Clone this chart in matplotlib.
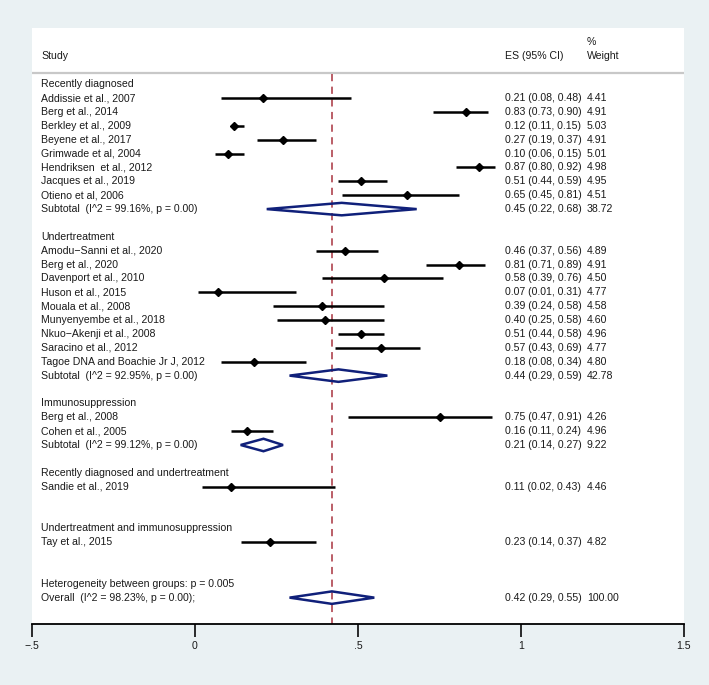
import matplotlib.pyplot as plt
from matplotlib.patches import Polygon

plt.rcParams['font.family'] = ['Liberation Sans', 'DejaVu Sans']

# ---- data ----
group_names = [
    "Recently diagnosed",
    "Undertreatment",
    "Immunosuppression",
    "Recently diagnosed and undertreatment",
    "Undertreatment and immunosuppression",
]

g1_studies = ["Addissie et al., 2007", "Berg et al., 2014", "Berkley et al., 2009",
              "Beyene et al., 2017", "Grimwade et al, 2004", "Hendriksen  et al., 2012",
              "Jacques et al., 2019", "Otieno et al, 2006"]
g1_es = [0.21, 0.83, 0.12, 0.27, 0.10, 0.87, 0.51, 0.65]
g1_lo = [0.08, 0.73, 0.11, 0.19, 0.06, 0.80, 0.44, 0.45]
g1_hi = [0.48, 0.90, 0.15, 0.37, 0.15, 0.92, 0.59, 0.81]
g1_w = [4.41, 4.91, 5.03, 4.91, 5.01, 4.98, 4.95, 4.51]

g2_studies = ["Amodu\u2212Sanni et al., 2020", "Berg et al., 2020", "Davenport et al., 2010",
              "Huson et al., 2015", "Mouala et al., 2008", "Munyenyembe et al., 2018",
              "Nkuo\u2212Akenji et al., 2008", "Saracino et al., 2012",
              "Tagoe DNA and Boachie Jr J, 2012"]
g2_es = [0.46, 0.81, 0.58, 0.07, 0.39, 0.40, 0.51, 0.57, 0.18]
g2_lo = [0.37, 0.71, 0.39, 0.01, 0.24, 0.25, 0.44, 0.43, 0.08]
g2_hi = [0.56, 0.89, 0.76, 0.31, 0.58, 0.58, 0.58, 0.69, 0.34]
g2_w = [4.89, 4.91, 4.50, 4.77, 4.58, 4.60, 4.96, 4.77, 4.80]

g3_studies = ["Berg et al., 2008", "Cohen et al., 2005"]
g3_es = [0.75, 0.16]
g3_lo = [0.47, 0.11]
g3_hi = [0.91, 0.24]
g3_w = [4.26, 4.96]

g4_studies = ["Sandie et al., 2019"]
g4_es = [0.11]
g4_lo = [0.02]
g4_hi = [0.43]
g4_w = [4.46]

g5_studies = ["Tay et al., 2015"]
g5_es = [0.23]
g5_lo = [0.14]
g5_hi = [0.37]
g5_w = [4.82]

# subtotal: (I^2 %, es, lo, hi, weight) or None
subtotals = [(99.16, 0.45, 0.22, 0.68, 38.72),
             (92.95, 0.44, 0.29, 0.59, 42.78),
             (99.12, 0.21, 0.14, 0.27, 9.22),
             None, None]

overall = (98.23, 0.42, 0.29, 0.55, 100.00)
het_p = "0.005"

xticks = [-0.5, 0, 0.5, 1, 1.5]
xtick_labels = ["\u2212.5", "0", ".5", "1", "1.5"]

groups = [
    (g1_studies, g1_es, g1_lo, g1_hi, g1_w),
    (g2_studies, g2_es, g2_lo, g2_hi, g2_w),
    (g3_studies, g3_es, g3_lo, g3_hi, g3_w),
    (g4_studies, g4_es, g4_lo, g4_hi, g4_w),
    (g5_studies, g5_es, g5_lo, g5_hi, g5_w),
]

# ---- styling ----
BG = "#eaf1f3"
NAVY = "#10207a"
REF = "#b5525c"
TXT = "#1a1a1a"
FS = 7.6
X_STUDY = -0.472
X_ES = 0.951
X_W = 1.202


def fmt_es(es, lo, hi):
    return f"{es:.2f} ({lo:.2f}, {hi:.2f})"


def diamond(ax, es, lo, hi, y, h=0.45):
    pts = [(lo, y), (es, y - h), (hi, y), (es, y + h)]
    ax.add_patch(Polygon(pts, closed=True, fill=False, edgecolor=NAVY,
                         linewidth=1.8, zorder=3))


def main():
    fig = plt.figure(figsize=(7.09, 6.85), dpi=100, facecolor=BG)
    ax = fig.add_axes([32 / 709, 61 / 685, 652 / 709, 596 / 685])
    ax.set_facecolor("white")

    def txt(x, y, s):
        ax.text(x, y, s, fontsize=FS, color=TXT, va="center", ha="left")

    # header
    txt(X_STUDY, -2, "Study")
    txt(X_ES, -2, "ES (95% CI)")
    txt(X_W, -3.05, "%")
    txt(X_W, -2, "Weight")
    ax.axhline(-0.8, color="#c8c8c8", linewidth=1.6, zorder=1)

    row = 0
    for name, (studies, es, lo, hi, w), sub in zip(group_names, groups, subtotals):
        txt(X_STUDY, row, name)
        row += 1
        for s, e, l, h, wt in zip(studies, es, lo, hi, w):
            txt(X_STUDY, row, s)
            ax.plot([l, h], [row, row], color="black", linewidth=1.8, zorder=3,
                    solid_capstyle="butt")
            ax.plot(e, row, marker="D", color="black", markersize=4.2, zorder=4)
            txt(X_ES, row, fmt_es(e, l, h))
            txt(X_W, row, f"{wt:.2f}")
            row += 1
        if sub is not None:
            i2, e, l, h, wt = sub
            txt(X_STUDY, row, f"Subtotal  (I^2 = {i2:.2f}%, p = 0.00)")
            diamond(ax, e, l, h, row)
            txt(X_ES, row, fmt_es(e, l, h))
            txt(X_W, row, f"{wt:.2f}")
        row += 2

    txt(X_STUDY, row, f"Heterogeneity between groups: p = {het_p}")
    row += 1
    i2, e, l, h, wt = overall
    txt(X_STUDY, row, f"Overall  (I^2 = {i2:.2f}%, p = 0.00);")
    diamond(ax, e, l, h, row)
    txt(X_ES, row, fmt_es(e, l, h))
    txt(X_W, row, f"{wt:.2f}")

    # reference line at overall estimate
    ax.plot([e, e], [-0.7, 38.9], color=REF, linewidth=1.3,
            linestyle=(0, (4, 3)), zorder=2)

    ax.set_xlim(-0.5, 1.5)
    ax.set_ylim(38.9, -4.05)
    for side in ["top", "right", "left"]:
        ax.spines[side].set_visible(False)
    ax.spines["bottom"].set_linewidth(1.3)
    ax.set_yticks([])
    ax.set_xticks(xticks)
    ax.set_xticklabels(xtick_labels)
    ax.tick_params(axis="x", direction="out", length=9, width=1.3,
                   labelsize=FS, pad=3, colors=TXT)
    ax.spines["bottom"].set_clip_on(False)

    fig.savefig("out.png", dpi=100, facecolor=BG)


if __name__ == "__main__":
    main()
